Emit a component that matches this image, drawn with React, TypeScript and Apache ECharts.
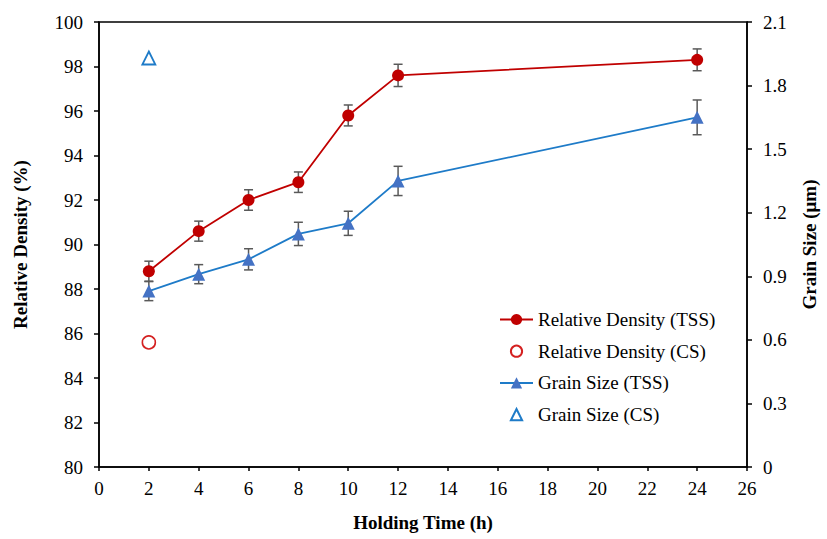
import React, { useEffect, useRef } from "react";
import * as echarts from "echarts";

const hours = [2, 4, 6, 8, 10, 12, 24];
const densityTSS = [88.8, 90.6, 92.0, 92.8, 95.8, 97.6, 98.3];
const densityErr = [0.45, 0.45, 0.46, 0.46, 0.47, 0.5, 0.49];
const grainTSS = [0.83, 0.91, 0.98, 1.1, 1.15, 1.35, 1.65];
const grainErr = [0.045, 0.045, 0.05, 0.055, 0.057, 0.069, 0.082];
const densityCSHours = [2];
const densityCS = [85.6];
const grainCSHours = [2];
const grainCS = [1.93];

const xTicks = { min: 0, max: 26, interval: 2 };
const leftTicks = { min: 80, max: 100, interval: 2 };
const rightTicks = { min: 0, max: 2.1, interval: 0.3 };

const FONT = "'Times New Roman', 'Liberation Serif', serif";
const RED = "#C00000";
const BLUE_LINE = "#1E7BC8";
const BLUE_MARK = "#4472C4";
const ERR = "#595959";

function errorBarSeries(name: string, values: number[], errs: number[], yAxisIndex: number) {
  return {
    name,
    type: "custom",
    yAxisIndex,
    z: 1,
    silent: true,
    data: hours.map((h, i) => [h, values[i] - errs[i], values[i] + errs[i]]),
    renderItem: (_params: any, api: any) => {
      const x = api.value(0);
      const lo = api.coord([x, api.value(1)]);
      const hi = api.coord([x, api.value(2)]);
      const w = 4.5;
      const style = { stroke: ERR, lineWidth: 1.5 };
      return {
        type: "group",
        children: [
          { type: "line", shape: { x1: lo[0], y1: lo[1], x2: hi[0], y2: hi[1] }, style },
          { type: "line", shape: { x1: lo[0] - w, y1: lo[1], x2: lo[0] + w, y2: lo[1] }, style },
          { type: "line", shape: { x1: hi[0] - w, y1: hi[1], x2: hi[0] + w, y2: hi[1] }, style },
        ],
      };
    },
  };
}

export default function App() {
  const ref = useRef<HTMLDivElement>(null);
  useEffect(() => {
    if (!ref.current) return;
    const chart = echarts.init(ref.current, null, { renderer: "svg" });
    const axisText = { fontFamily: FONT, fontSize: 19, color: "#000" };
    const nameText = { fontFamily: FONT, fontSize: 19, fontWeight: "bold", color: "#000" };
    chart.setOption({
      animation: false,
      backgroundColor: "#fff",
      grid: {
        left: 99,
        right: 69,
        top: 22,
        bottom: 72,
        show: true,
        borderColor: "#000",
        borderWidth: 1.5,
      },
      legend: {
        orient: "vertical",
        left: 494,
        top: 305,
        itemWidth: 33,
        itemHeight: 14,
        itemGap: 12.7,
        textStyle: { fontFamily: FONT, fontSize: 19, color: "#000" },
        data: [
          "Relative Density (TSS)",
          "Relative Density (CS)",
          "Grain Size (TSS)",
          "Grain Size (CS)",
        ],
      },
      xAxis: {
        type: "value",
        ...xTicks,
        name: "Holding Time (h)",
        nameLocation: "middle",
        nameGap: 46,
        nameTextStyle: nameText,
        axisLine: { show: true, lineStyle: { color: "#000", width: 1.5 } },
        axisTick: { show: true, inside: false, length: 4, lineStyle: { color: "#000", width: 1.5 } },
        axisLabel: { ...axisText, margin: 12 },
        splitLine: { show: false },
      },
      yAxis: [
        {
          type: "value",
          ...leftTicks,
          position: "left",
          name: "Relative Density (%)",
          nameLocation: "middle",
          nameRotate: 90,
          nameGap: 69,
          nameTextStyle: nameText,
          axisLine: { show: true, lineStyle: { color: "#000", width: 1.5 } },
          axisTick: { show: true, length: 5, lineStyle: { color: "#000", width: 1.5 } },
          axisLabel: { ...axisText, margin: 16 },
          splitLine: { show: false },
        },
        {
          type: "value",
          ...rightTicks,
          position: "right",
          name: "Grain Size (μm)",
          nameLocation: "middle",
          nameRotate: 90,
          nameGap: 53,
          nameTextStyle: nameText,
          axisLine: { show: true, lineStyle: { color: "#000", width: 1.5 } },
          axisTick: { show: true, length: 5, lineStyle: { color: "#000", width: 1.5 } },
          axisLabel: {
            ...axisText,
            margin: 16,
            formatter: (v: number) => (v === 0 ? "0" : v.toFixed(1)),
          },
          splitLine: { show: false },
        },
      ],
      series: [
        errorBarSeries("errDensity", densityTSS, densityErr, 0),
        errorBarSeries("errGrain", grainTSS, grainErr, 1),
        {
          name: "Relative Density (TSS)",
          type: "line",
          yAxisIndex: 0,
          z: 3,
          data: hours.map((h, i) => [h, densityTSS[i]]),
          symbol: "circle",
          symbolSize: 12,
          itemStyle: { color: RED },
          lineStyle: { color: RED, width: 1.8 },
        },
        {
          name: "Relative Density (CS)",
          type: "line",
          yAxisIndex: 0,
          z: 3,
          data: densityCSHours.map((h, i) => [h, densityCS[i]]),
          symbol: "circle",
          symbolSize: 13,
          showAllSymbol: true,
          itemStyle: { color: "#fff", borderColor: "#D42020", borderWidth: 1.6 },
          lineStyle: { opacity: 0, width: 0 },
        },
        {
          name: "Grain Size (TSS)",
          type: "line",
          yAxisIndex: 1,
          z: 3,
          data: hours.map((h, i) => [h, grainTSS[i]]),
          symbol: "triangle",
          symbolSize: 13,
          itemStyle: { color: BLUE_MARK },
          lineStyle: { color: BLUE_LINE, width: 1.8 },
        },
        {
          name: "Grain Size (CS)",
          type: "line",
          yAxisIndex: 1,
          z: 3,
          data: grainCSHours.map((h, i) => [h, grainCS[i]]),
          symbol: "triangle",
          symbolSize: 13,
          showAllSymbol: true,
          itemStyle: { color: "#fff", borderColor: "#1E7BC8", borderWidth: 1.8 },
          lineStyle: { opacity: 0, width: 0 },
        },
      ],
    });
    return () => chart.dispose();
  }, []);
  return (
    <div
      ref={ref}
      style={{ position: "fixed", left: 0, top: 0, width: 827, height: 539, background: "#fff" }}
    />
  );
}
